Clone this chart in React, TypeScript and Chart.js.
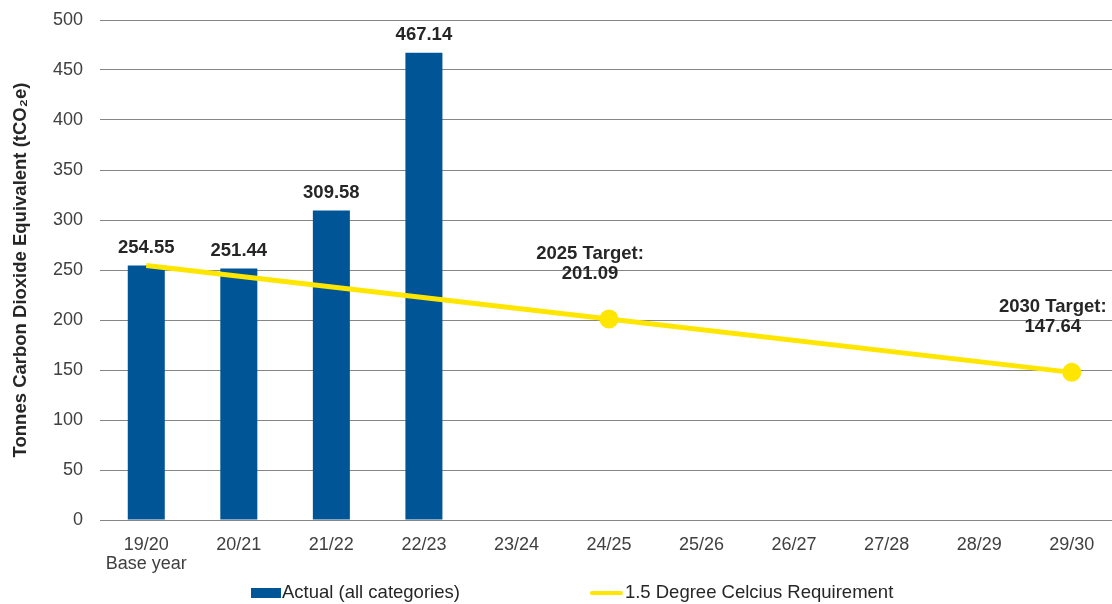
import React, { useEffect, useRef } from 'react';
import { Chart, registerables } from 'chart.js';

Chart.register(...registerables);

const categories: (string | string[])[] = [
  ['19/20', 'Base year'], '20/21', '21/22', '22/23', '23/24', '24/25', '25/26', '26/27', '27/28', '28/29', '29/30',
];
const actualValues: (number | null)[] = [254.55, 251.44, 309.58, 467.14, null, null, null, null, null, null, null];
const requirementValues: (number | null)[] = [254.55, null, null, null, null, 201.09, null, null, null, null, 147.64];
const targetNames: string[] = ['', '', '', '', '', '2025 Target:', '', '', '', '', '2030 Target:'];
const seriesNames = ['Actual (all categories)', '1.5 Degree Celcius Requirement'];
const yTitle = 'Tonnes Carbon Dioxide Equivalent (tCO\u2082e)';
const yMin = 0;
const yMax = 500;
const yStep = 50;

const BAR_COLOR = '#005596';
const LINE_COLOR = '#FFE600';
const FONT = '"Liberation Sans", Arial, sans-serif';

const labelPlugin = {
  id: 'valueLabels',
  afterDraw(chart: any) {
    const ctx = chart.ctx as CanvasRenderingContext2D;
    ctx.save();
    ctx.font = `bold 18.5px ${FONT}`;
    ctx.fillStyle = '#262626';
    ctx.textAlign = 'center';
    ctx.textBaseline = 'middle';
    const barMeta = chart.getDatasetMeta(0);
    barMeta.data.forEach((el: any, i: number) => {
      const v = actualValues[i];
      if (v == null) return;
      ctx.fillText(v.toFixed(2), el.x, el.y - 18);
    });
    const lineMeta = chart.getDatasetMeta(1);
    lineMeta.data.forEach((el: any, i: number) => {
      const name = targetNames[i];
      const v = requirementValues[i];
      if (!name || v == null) return;
      ctx.fillText(name, el.x - 19, el.y - 65);
      ctx.fillText(v.toFixed(2), el.x - 19, el.y - 45);
    });

    // legend
    const ly = chart.chartArea.bottom + 73;
    let x = chart.chartArea.left + 151;
    ctx.font = `18.5px ${FONT}`;
    ctx.textAlign = 'left';
    ctx.fillStyle = BAR_COLOR;
    ctx.fillRect(x, ly - 5, 30, 10);
    x += 31;
    ctx.fillStyle = '#262626';
    ctx.fillText(seriesNames[0], x, ly);
    x += ctx.measureText(seriesNames[0]).width + 130;
    ctx.strokeStyle = LINE_COLOR;
    ctx.lineWidth = 4;
    ctx.lineCap = 'round';
    ctx.beginPath();
    ctx.moveTo(x + 2, ly);
    ctx.lineTo(x + 31, ly);
    ctx.stroke();
    x += 35;
    ctx.fillText(seriesNames[1], x, ly);
    ctx.restore();
  },
};

export default function App() {
  const canvasRef = useRef<HTMLCanvasElement | null>(null);

  useEffect(() => {
    document.body.style.margin = '0';
    document.body.style.overflow = 'hidden';
    const canvas = canvasRef.current;
    if (!canvas) return;
    const chart = new Chart(canvas, {
      type: 'bar',
      data: {
        labels: categories as any,
        datasets: [
          {
            type: 'bar',
            label: seriesNames[0],
            data: actualValues,
            backgroundColor: BAR_COLOR,
            barPercentage: 0.4,
            categoryPercentage: 1,
            order: 2,
          },
          {
            type: 'line',
            label: seriesNames[1],
            data: requirementValues,
            borderColor: LINE_COLOR,
            backgroundColor: LINE_COLOR,
            borderWidth: 5,
            spanGaps: true,
            pointRadius: (c: any) => (targetNames[c.dataIndex] ? 9.5 : 0),
            pointHoverRadius: 0,
            pointBorderWidth: 0,
            clip: false,
            order: 1,
          } as any,
        ],
      },
      options: {
        animation: false,
        responsive: true,
        maintainAspectRatio: false,
        layout: { autoPadding: false, padding: { top: 20, left: 0, right: 0, bottom: 0 } },
        plugins: {
          legend: { display: false },
          tooltip: { enabled: false },
        },
        scales: {
          x: {
            grid: { display: false, drawTicks: false },
            border: { display: true, color: '#868686', width: 1 },
            ticks: {
              color: '#404040',
              font: { family: FONT, size: 18, lineHeight: 1.05 },
              padding: 16,
              maxRotation: 0,
              autoSkip: false,
            },
            afterFit: (s: any) => {
              s.height = 84;
            },
          },
          y: {
            min: yMin,
            max: yMax,
            grid: {
              color: '#868686',
              lineWidth: 1,
              drawTicks: true,
              tickLength: 17,
              tickColor: 'rgba(0,0,0,0)',
            },
            border: { display: false },
            ticks: {
              stepSize: yStep,
              color: '#404040',
              font: { family: FONT, size: 18 },
              padding: 0,
            },
            title: {
              display: true,
              text: yTitle,
              color: '#262626',
              font: { family: FONT, size: 18.5, weight: 'bold' },
              padding: { top: 10, bottom: 0 },
            },
            afterFit: (s: any) => {
              s.width = 100;
            },
          },
        },
      },
      plugins: [labelPlugin],
    });
    return () => chart.destroy();
  }, []);

  return (
    <div style={{ width: 1112, height: 604, overflow: 'hidden', position: 'relative' }}>
      <div style={{ width: 1118, height: 604, position: 'absolute', left: 0, top: 0 }}>
        <canvas ref={canvasRef} />
      </div>
    </div>
  );
}
